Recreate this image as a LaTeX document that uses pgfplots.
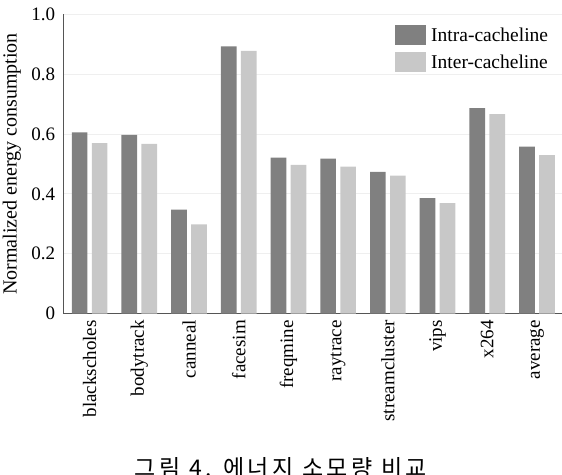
\documentclass[border=0pt]{standalone}
\usepackage{fontspec}
\setmainfont{Liberation Serif}
\newfontfamily\kr[LetterSpace=15]{Noto Sans CJK KR}
\usepackage{pgfplots}
\pgfplotsset{compat=1.18}
\definecolor{darkbar}{HTML}{808080}
\definecolor{lightbar}{HTML}{C8C8C8}
\definecolor{gridc}{HTML}{EFEFEF}
\definecolor{axc}{HTML}{555555}
\begin{document}
\begin{tikzpicture}[x=1pt,y=1pt]
\path[use as bounding box] (0,0) rectangle (562,474);
\begin{axis}[
  at={(63.3pt,160.5pt)},
  width=498.5pt, height=299pt, scale only axis,
  xmin=-0.53, xmax=9.5, ymin=0, ymax=1,
  ybar, bar width=15.7pt,
  axis x line*=bottom, axis y line*=left,
  axis line style={axc, line width=1pt, -},
  xtick={0,...,9},
  xticklabels={blackscholes,bodytrack,canneal,facesim,freqmine,raytrace,streamcluster,vips,x264,average},
  ytick={0,0.2,0.4,0.6,0.8,1.0},
  yticklabels={0,0.2,0.4,0.6,0.8,1.0},
  major tick length=0pt,
  ymajorgrids, grid style={gridc, line width=0.8pt},
  xticklabel style={rotate=90, anchor=east, inner xsep=6.5pt, inner ysep=0pt, font=\fontsize{19}{22}\selectfont},
  yticklabel style={anchor=east, inner xsep=8pt, inner ysep=0pt, font=\fontsize{19}{22}\selectfont},
  ylabel={Normalized energy consumption},
  ylabel style={at={(axis description cs:-0.103,0.5)}, anchor=center, font=\fontsize{20}{23}\selectfont},
  legend image code/.code={\path[#1] (0pt,-10pt) rectangle (31pt,10pt);},
  legend cell align=left,
  legend style={at={(0.664,0.965)}, anchor=north west, draw=none, fill=none,
    inner sep=0pt, row sep=6.7pt, column sep=5.7pt,
    nodes={inner sep=0pt, text depth=0pt},
    font=\fontsize{19.5}{23}\selectfont},
]
\addplot[fill=darkbar, draw=none, bar shift=-10pt] coordinates {
  (0,0.606) (1,0.597) (2,0.347) (3,0.893) (4,0.521) (5,0.518) (6,0.474) (7,0.386) (8,0.687) (9,0.558)};
\addplot[fill=lightbar, draw=none, bar shift=10pt] coordinates {
  (0,0.570) (1,0.567) (2,0.298) (3,0.878) (4,0.497) (5,0.491) (6,0.461) (7,0.369) (8,0.667) (9,0.530)};
\legend{Intra-cacheline, Inter-cacheline}
\end{axis}
\node[font=\kr\fontsize{23}{26}\selectfont, anchor=base, inner sep=0pt] at (281,-2.5) {그림 4. 에너지 소모량 비교};
\end{tikzpicture}
\end{document}
